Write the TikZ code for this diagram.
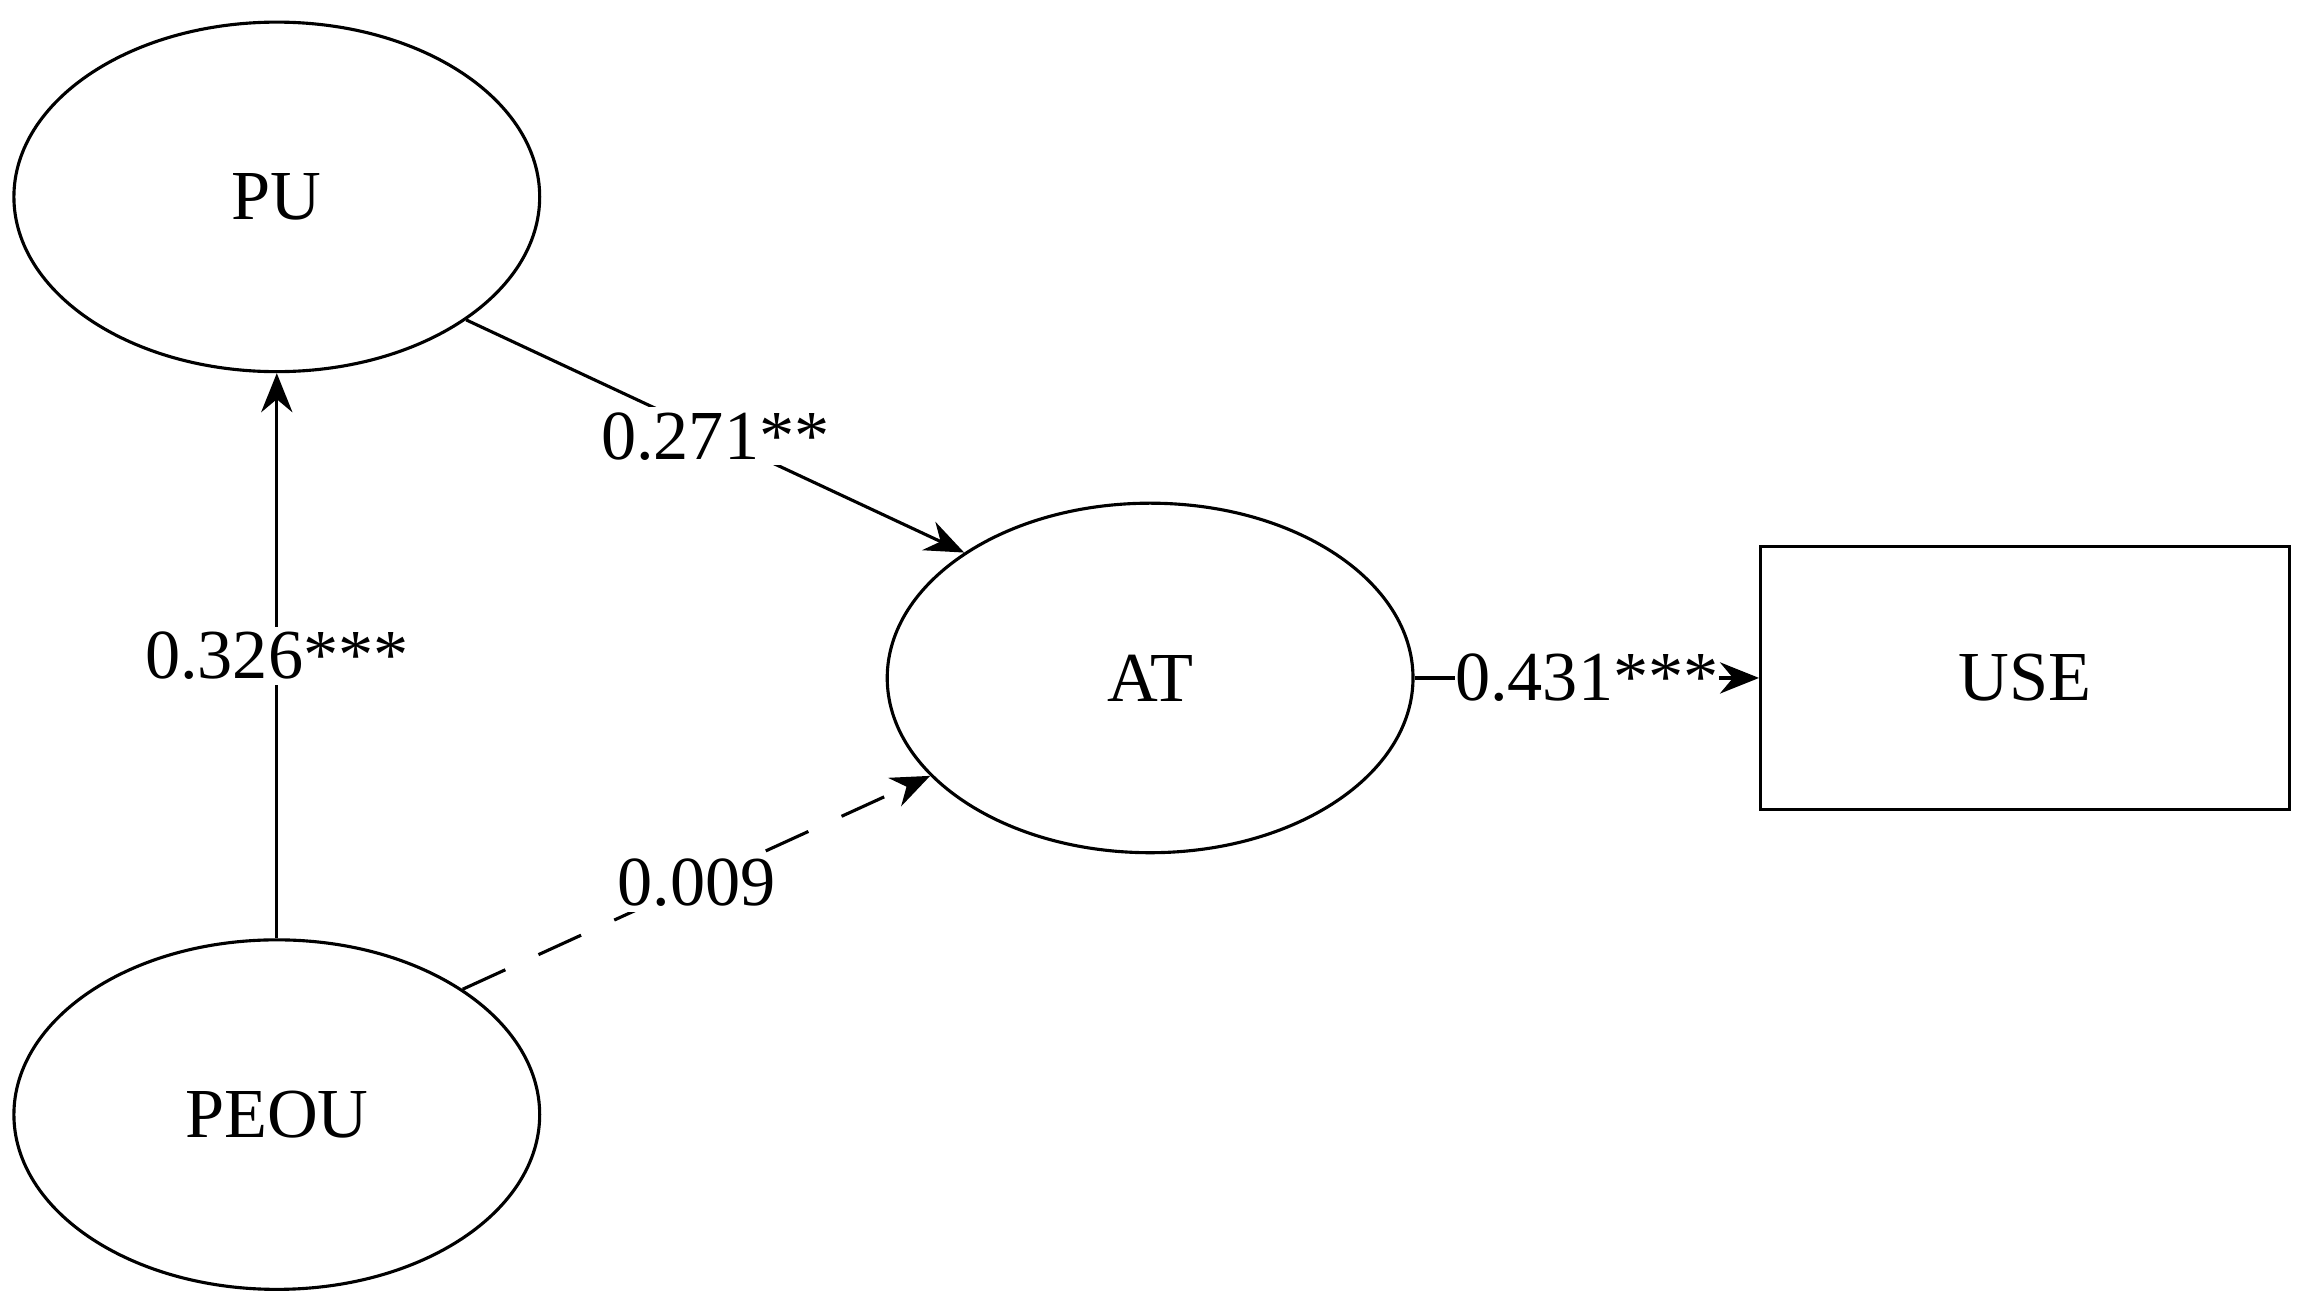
\documentclass[tikz,border=0pt]{standalone}
\usepackage{fontspec}
\setmainfont{Liberation Serif}
\usetikzlibrary{shapes.geometric,arrows.meta}
\begin{document}
\begin{tikzpicture}[x=0.01cm,y=-0.01cm,
  every node/.style={font=\fontsize{13.5}{16}\selectfont},
  latent/.style={draw,ellipse,line width=0.6pt,minimum width=3.55cm,minimum height=2.36cm,inner sep=0pt},
  observed/.style={draw,rectangle,line width=0.6pt,minimum width=3.57cm,minimum height=1.78cm,inner sep=0pt},
  path/.style={line width=0.6pt,-{Stealth[length=7.5pt,width=6pt,inset=2.5pt]}},
  dashpath/.style={path,dash pattern=on 9pt off 7pt},
  lbl/.style={fill=white,inner sep=1pt,midway}]
\useasboundingbox (0,0) rectangle (1566,884);
\node[latent] (PU) at (187,133) {PU};
\node[latent] (PEOU) at (187,753) {PEOU};
\node[latent] (AT) at (777,458) {AT};
\node[observed] (USE) at (1368,458) {USE};
\draw[path] (PEOU.north) -- node[lbl] {0.326***} (PU.south);
\draw[path] (PU.-33.6) -- node[lbl] {0.271**} (AT.146.4);
\draw[dashpath] (PEOU.34) -- node[lbl] {0.009} (AT.204);
\draw[path] (AT.east) -- node[lbl,inner sep=0pt] {0.431***} (USE.west);
\end{tikzpicture}
\end{document}
